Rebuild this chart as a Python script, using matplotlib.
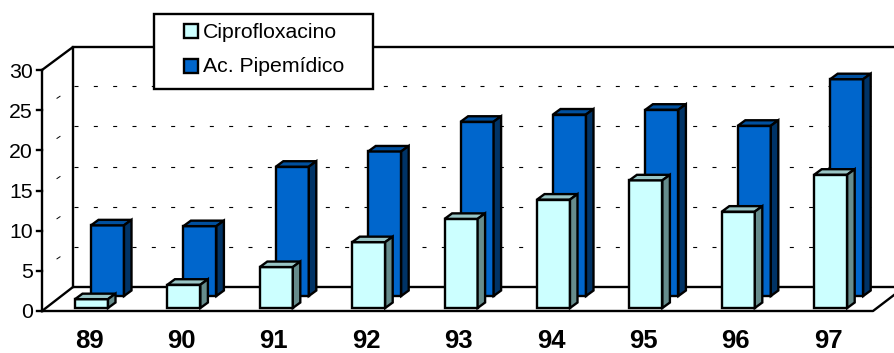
import numpy as np
import matplotlib
matplotlib.use('Agg')
import matplotlib.pyplot as plt
from matplotlib.patches import Polygon, Rectangle
from matplotlib.transforms import Affine2D

years = ['89', '90', '91', '92', '93', '94', '95', '96', '97']
cipro = [1.1, 2.9, 5.1, 8.2, 11.1, 13.5, 15.9, 12.0, 16.6]
pipe = [8.8, 8.7, 16.1, 18.0, 21.7, 22.6, 23.2, 21.2, 27.0]
y_ticks = [0, 5, 10, 15, 20, 25, 30]
legend_names = ['Ciprofloxacino', 'Ac. Pipemídico']

W, H = 894, 353
X0, X_STEP = 89, 92.4    # pixel of first category, pixels per category
Y0, Y_STEP = 311, 8.03   # pixel of zero, pixels per unit
LW = 1.7

plt.rcParams['font.family'] = ['Liberation Sans', 'DejaVu Sans']

fig = plt.figure(figsize=(W / 100, H / 100), dpi=100)
ax = fig.add_axes([0, 0, 1, 1])
ax.set_xlim((0 - X0) / X_STEP, (W - X0) / X_STEP)
ax.set_ylim((Y0 - H) / Y_STEP, Y0 / Y_STEP)
ax.axis('off')

# frame drawn in screen pixels, y going down
px = Affine2D().scale(1 / W, -1 / H).translate(0, 1) + fig.transFigure


def line(xs, ys, **kw):
    kw.setdefault('color', 'black')
    kw.setdefault('lw', LW)
    ax.plot(xs, ys, transform=px, solid_capstyle='projecting', clip_on=False, **kw)


line([42, 42], [70, 311], zorder=2)
line([42, 73, 73], [70, 47, 287], zorder=2)
line([73, W], [47, 47], zorder=2)
line([42, 873, W], [311, 311, 295], zorder=2)
line([42, 73, W], [311, 287, 287], zorder=2)

for v in y_ticks:
    y = Y0 - v * Y_STEP
    line([37, 42], [y, y], zorder=2)
    ax.text(33, y + 2, str(v), transform=px, ha='right', va='center', fontsize=15.3)
    if 0 < v < 30:
        # dashed line on the back wall and its stub on the side wall
        ax.plot([74, 884], [y - 24, y - 24], transform=px, color='black', lw=0.8,
                dashes=(3.6, 13.8), zorder=1)
        line([57, 60], [y - 12, y - 14], lw=0.7, zorder=1)


def bar3d(i, value, shift, base, front, top, side):
    # box with its front face starting at data value `base`
    w = 33 / X_STEP
    dx = 7.5 / X_STEP
    dy = 5.5 / Y_STEP
    left = i + shift / X_STEP
    right = left + w
    low = base
    high = base + value
    faces = [
        ([(left, low), (right, low), (right, high), (left, high)], front),
        ([(left, high), (right, high), (right + dx, high + dy), (left + dx, high + dy)], top),
        ([(right, low), (right + dx, low + dy), (right + dx, high + dy), (right, high)], side),
    ]
    for pts, color in faces:
        ax.add_patch(Polygon(pts, closed=True, facecolor=color, edgecolor='black',
                             lw=LW, joinstyle='miter', zorder=3 if base > 1 else 4))


for i in range(len(years)):
    bar3d(i, pipe[i], 2, 15 / Y_STEP, '#0066CC', '#00509F', '#003366')
for i in range(len(years)):
    bar3d(i, cipro[i], -14, 3 / Y_STEP, '#CCFFFF', '#99C6C6', '#668C8C')

for i, label in enumerate(years):
    ax.text(i, (Y0 - 347.5) / Y_STEP, label, ha='center', va='baseline',
            fontsize=18.5, fontweight='bold')

# legend box
ax.add_patch(Rectangle((154, 14), 219, 75, transform=px, facecolor='white',
                       edgecolor='black', lw=LW, zorder=5))
for y, name, color in zip([31, 66], legend_names, ['#CCFFFF', '#0066CC']):
    ax.add_patch(Rectangle((184, y - 7), 14, 14, transform=px, facecolor=color,
                           edgecolor='black', lw=LW, zorder=6))
    ax.text(203, y + 1, name, transform=px, va='center', fontsize=15.3, zorder=6)

fig.savefig('out.png', dpi=100, facecolor='white')
